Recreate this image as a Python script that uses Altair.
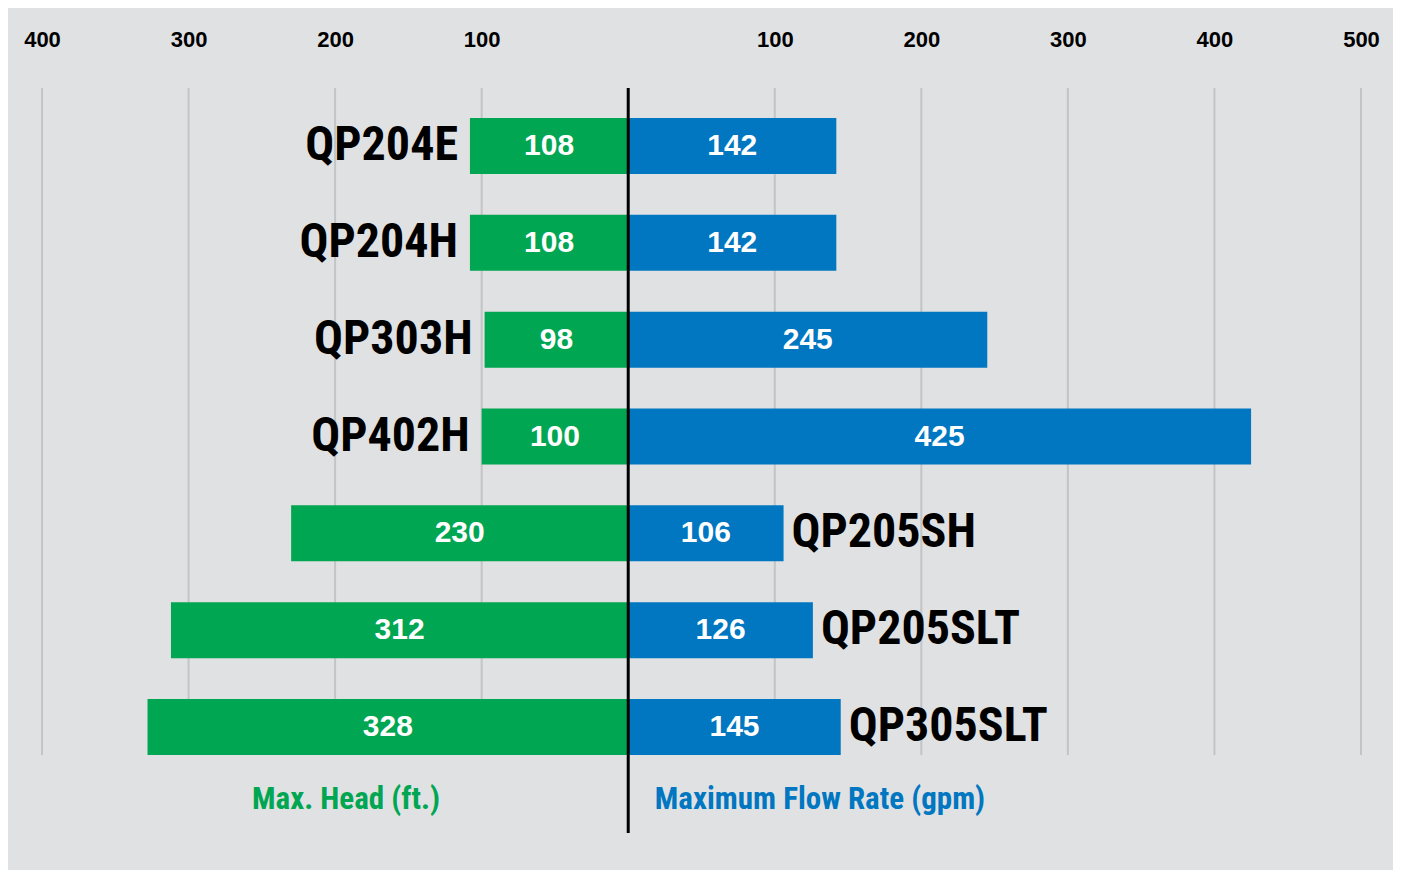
import altair as alt
import pandas as pd

# ---- data ----
products = ["QP204E", "QP204H", "QP303H", "QP402H", "QP205SH", "QP205SLT", "QP305SLT"]
max_head_ft = [108, 108, 98, 100, 230, 312, 328]
max_flow_gpm = [142, 142, 245, 425, 106, 126, 145]
name_side = ["left", "left", "left", "left", "right", "right", "right"]
grid_ticks = [-400, -300, -200, -100, 100, 200, 300, 400, 500]
head_title = "Max. Head (ft.)"
flow_title = "Maximum Flow Rate (gpm)"

# ---- style ----
GREEN = "#00a651"
BLUE = "#0077c0"
BG = "#e0e1e3"
GRID = "#c3c4c6"
NARROW = "Roboto Condensed, Liberation Sans Narrow, Arial Narrow, sans-serif"
REG = "Liberation Sans, Arial, sans-serif"
W, H = 1319, 667

df = pd.DataFrame({"product": products, "head": max_head_ft,
                   "flow": max_flow_gpm, "side": name_side})
df["neg_head"] = -df["head"]
df["head_mid"] = -df["head"] / 2
df["flow_mid"] = df["flow"] / 2
df["zero"] = 0
ticks_df = pd.DataFrame({"tick": grid_ticks})
zero_df = pd.DataFrame({"zero": [0]})

xscale = alt.Scale(domain=[-400, 500], nice=False, zero=False)
yscale = alt.Scale(domain=products, paddingInner=0.422, paddingOuter=0.155, align=1)
xaxis = alt.Axis(orient="top", values=grid_ticks, labelExpr="'' + abs(datum.value)",
                 domain=False, ticks=False, tickSize=0, grid=False, title=None,
                 labelFont=REG, labelFontWeight="bold", labelFontSize=22,
                 labelColor="black", labelBaseline="middle", labelPadding=49,
                 labelFlush=False, labelOverlap=False, labelBound=False)


def X(field):
    return alt.X(field, type="quantitative", scale=xscale, axis=xaxis)


def Y():
    return alt.Y("product:N", scale=yscale, axis=None, sort=products)


grid = alt.Chart(ticks_df).mark_rule(color=GRID, strokeWidth=2).encode(x=X("tick"))

green = alt.Chart(df).mark_bar(color=GREEN).encode(
    x=X("neg_head"), x2=alt.X2("zero:Q"), y=Y())
blue = alt.Chart(df).mark_bar(color=BLUE).encode(
    x=X("zero"), x2=alt.X2("flow:Q"), y=Y())

center = alt.Chart(zero_df).mark_rule(color="black", strokeWidth=3).encode(
    x=X("zero"), y=alt.value(0), y2=alt.value(H + 78))

val_style = dict(color="white", font=REG, fontWeight="bold", fontSize=30,
                 baseline="middle", align="center")
green_vals = alt.Chart(df).mark_text(**val_style).encode(
    x=X("head_mid"), y=Y(), text="head:Q")
blue_vals = alt.Chart(df).mark_text(**val_style).encode(
    x=X("flow_mid"), y=Y(), text="flow:Q")

name_style = dict(color="black", font=NARROW, fontWeight="bold", fontSize=48,
                  baseline="middle")
names_left = alt.Chart(df).transform_filter(alt.datum.side == "left").mark_text(
    align="right", dx=-12, **name_style).encode(x=X("neg_head"), y=Y(), text="product:N")
names_right = alt.Chart(df).transform_filter(alt.datum.side == "right").mark_text(
    align="left", dx=8, **name_style).encode(x=X("flow"), y=Y(), text="product:N")

title_style = dict(font=NARROW, fontWeight="bold", fontSize=31, baseline="middle",
                   align="center")
head_t = alt.Chart(pd.DataFrame({"t": [head_title]})).mark_text(
    color=GREEN, **title_style).encode(x=alt.value(304), y=alt.value(H + 45), text="t:N")
flow_t = alt.Chart(pd.DataFrame({"t": [flow_title]})).mark_text(
    color=BLUE, **title_style).encode(x=alt.value(778), y=alt.value(H + 45), text="t:N")

chart = alt.layer(
    grid, green, blue, center, green_vals, blue_vals, names_left, names_right, head_t, flow_t
).properties(
    width=W, height=H,
    autosize=alt.AutoSizeParams(type="none"),
    padding={"left": 34, "right": 32, "top": 80, "bottom": 115},
).configure(background=BG).configure_view(stroke=None)

chart.save("out.html", embed_options={"renderer": "svg", "actions": False})
